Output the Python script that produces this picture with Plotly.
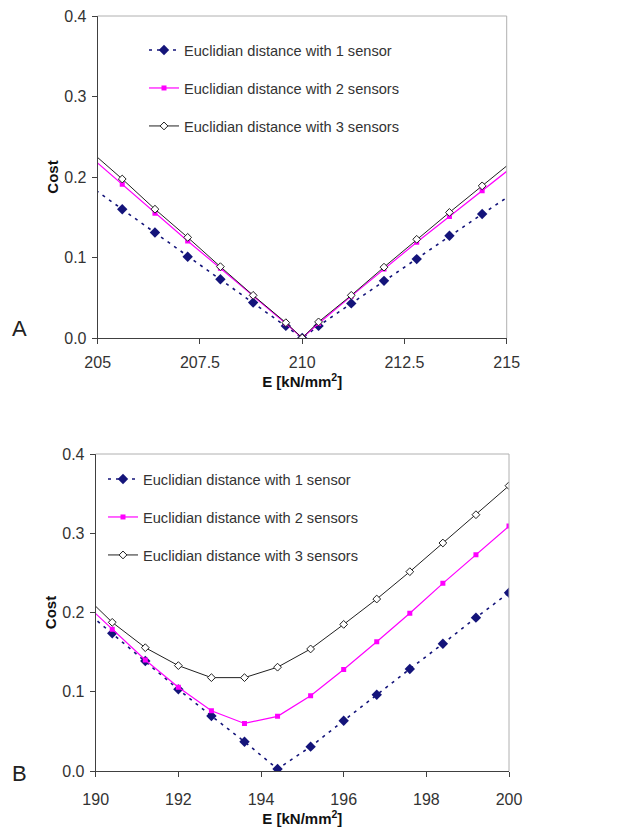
import plotly.graph_objects as go

# ---- data ----
A_x = [204.8, 205.6, 206.4, 207.2, 208.0, 208.8, 209.6, 210.0, 210.4, 211.2, 212.0, 212.8, 213.6, 214.4, 215.2]
A_s1 = [0.189, 0.160, 0.131, 0.101, 0.073, 0.044, 0.015, 0.0, 0.015, 0.043, 0.071, 0.098, 0.127, 0.154, 0.181]
A_s2 = [0.226, 0.191, 0.155, 0.1205, 0.0866, 0.0526, 0.018, 0.0, 0.018, 0.052, 0.0857, 0.119, 0.151, 0.183, 0.215]
A_s3 = [0.233, 0.1975, 0.160, 0.125, 0.0886, 0.053, 0.019, 0.0, 0.020, 0.053, 0.088, 0.1226, 0.156, 0.189, 0.222]

B_x = [189.6, 190.4, 191.2, 192.0, 192.8, 193.6, 194.4, 195.2, 196.0, 196.8, 197.6, 198.4, 199.2, 200.0]
B_s1 = [0.2086, 0.1737, 0.1388, 0.103, 0.0694, 0.037, 0.0025, 0.0307, 0.0635, 0.0963, 0.1287, 0.1606, 0.1935, 0.225]
B_s2 = [0.218, 0.179, 0.140, 0.1056, 0.076, 0.060, 0.069, 0.095, 0.128, 0.163, 0.199, 0.2368, 0.273, 0.309]
B_s3 = [0.228, 0.1876, 0.1556, 0.133, 0.1178, 0.1178, 0.131, 0.154, 0.185, 0.217, 0.2515, 0.2877, 0.3234, 0.360]

names = ["Euclidian distance with 1 sensor",
         "Euclidian distance with 2 sensors",
         "Euclidian distance with 3 sensors"]

A_xticks = [205, 207.5, 210, 212.5, 215]
A_xticklabels = ["205", "207.5", "210", "212.5", "215"]
B_xticks = [190, 192, 194, 196, 198, 200]
y_ticks = [0.0, 0.1, 0.2, 0.3, 0.4]
y_ticklabels = ["0.0", "0.1", "0.2", "0.3", "0.4"]

# ---- styles ----
FONT = "Liberation Sans, Arial, sans-serif"
styles = [
    dict(line=dict(color="#14147a", width=1.6, dash="3px,5px"),
         marker=dict(symbol="diamond", size=8, color="#14147a")),
    dict(line=dict(color="#ff00ff", width=1.2),
         marker=dict(symbol="square", size=5, color="#ff00ff")),
    dict(line=dict(color="#202020", width=1.0),
         marker=dict(symbol="diamond", size=6, color="white",
                     line=dict(color="#202020", width=1))),
]

fig = go.Figure()

for i, ys in enumerate([A_s1, A_s2, A_s3]):
    fig.add_trace(go.Scatter(x=A_x, y=ys, mode="lines+markers", name=names[i],
                             xaxis="x", yaxis="y", legend="legend",
                             legendgroup="a%d" % i, **styles[i]))
for i, ys in enumerate([B_s1, B_s2, B_s3]):
    fig.add_trace(go.Scatter(x=B_x, y=ys, mode="lines+markers", name=names[i],
                             xaxis="x2", yaxis="y2", legend="legend2",
                             legendgroup="b%d" % i, **styles[i]))

W, H = 626, 836
OFF = 8  # page body margin
def px(v): return (v - OFF) / W
def py(v): return 1 - (v - OFF) / H

axis_common = dict(showgrid=False, zeroline=False, showline=True, linecolor="#404040",
                   linewidth=1, ticks="outside", ticklen=5, tickcolor="#404040",
                   automargin=False, ticklabeloverflow="allow",
                   tickfont=dict(family=FONT, size=16, color="#333333"))

title_font = dict(family=FONT, size=15, color="#111111")

fig.update_layout(
    template="none",
    width=W, height=H,
    margin=dict(l=0, r=0, t=0, b=0, autoexpand=False),
    paper_bgcolor="white", plot_bgcolor="white",
    xaxis=dict(domain=[px(97.7), px(506.7)], range=[205, 215], anchor="y",
               tickvals=A_xticks, ticktext=A_xticklabels, ticklabelstandoff=5,
               title=dict(text="<b>E [kN/mm<sup>2</sup>]</b>", font=title_font, standoff=4),
               **axis_common),
    yaxis=dict(domain=[py(338), py(16)], range=[0, 0.4], anchor="x",
               tickvals=y_ticks, ticktext=y_ticklabels, ticklabelstandoff=2,
               title=dict(text="<b>Cost</b>", font=title_font, standoff=2),
               **axis_common),
    xaxis2=dict(domain=[px(95.7), px(509)], range=[190, 200], anchor="y2",
                tickvals=B_xticks, ticklabelstandoff=9,
                title=dict(text="<b>E [kN/mm<sup>2</sup>]</b>", font=title_font, standoff=4),
                **axis_common),
    yaxis2=dict(domain=[py(771), py(454)], range=[0, 0.4], anchor="x2",
                tickvals=y_ticks, ticktext=y_ticklabels, ticklabelstandoff=2,
                title=dict(text="<b>Cost</b>", font=title_font, standoff=2),
                **axis_common),
    legend=dict(x=px(144), y=py(34), xanchor="left", yanchor="top",
                bgcolor="rgba(0,0,0,0)", font=dict(family=FONT, size=14.6, color="#333333"),
                tracegroupgap=16, itemwidth=30, traceorder="grouped"),
    legend2=dict(x=px(103), y=py(463), xanchor="left", yanchor="top",
                 bgcolor="rgba(0,0,0,0)", font=dict(family=FONT, size=14.6, color="#333333"),
                 tracegroupgap=16, itemwidth=30, traceorder="grouped"),
    showlegend=True,
)

# light plot-area border on top/right
for xr, yr in [("x domain", "y domain"), ("x2 domain", "y2 domain")]:
    fig.add_shape(type="line", xref=xr, yref=yr, x0=0, x1=1, y0=1, y1=1,
                  line=dict(color="#b0b0b0", width=1))
    fig.add_shape(type="line", xref=xr, yref=yr, x0=1, x1=1, y0=0, y1=1,
                  line=dict(color="#b0b0b0", width=1))

fig.add_annotation(text="A", x=px(19), y=py(328), xref="paper", yref="paper",
                   xanchor="center", yanchor="middle",
                   showarrow=False, font=dict(family=FONT, size=22, color="#222222"))
fig.add_annotation(text="B", x=px(19), y=py(773), xref="paper", yref="paper",
                   xanchor="center", yanchor="middle",
                   showarrow=False, font=dict(family=FONT, size=22, color="#222222"))

fig.write_html("out.html")
